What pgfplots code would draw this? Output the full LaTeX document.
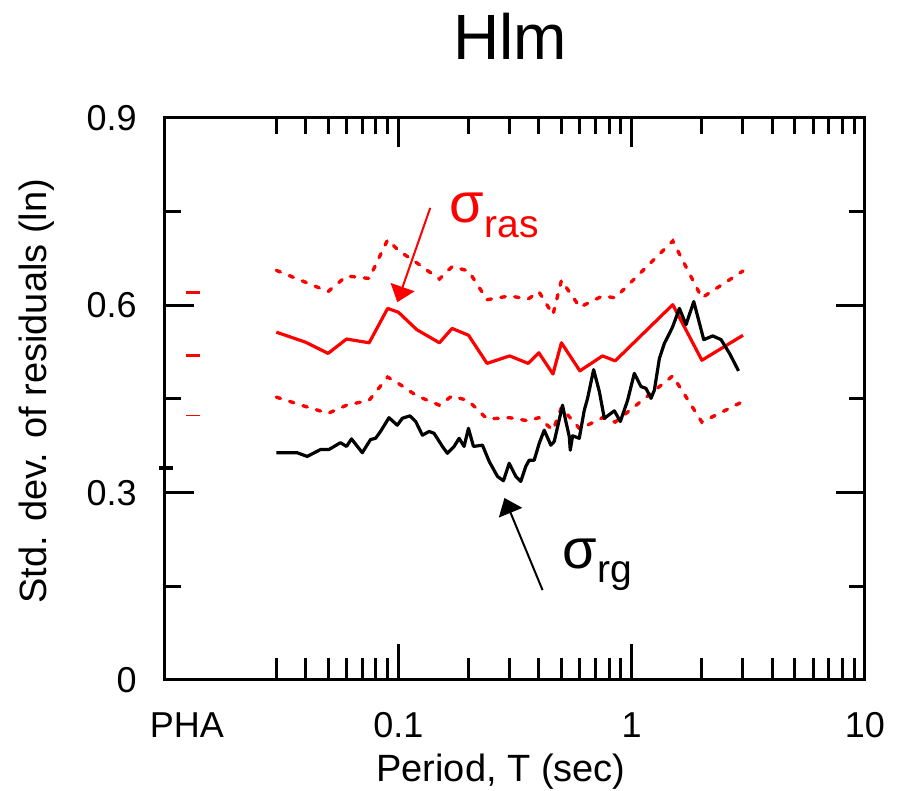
\documentclass[border=0pt]{standalone}
\usepackage{fontspec}
\setmainfont{Liberation Sans}
\usepackage{pgfplots}
\pgfplotsset{compat=1.18}
\usetikzlibrary{arrows.meta}

\pgfplotstableread{
T s
0.03 0.557
0.04 0.541
0.05 0.523
0.06 0.546
0.075 0.540
0.09 0.595
0.1 0.589
0.12 0.561
0.15 0.540
0.17 0.563
0.2 0.552
0.24 0.507
0.3 0.519
0.36 0.507
0.4 0.524
0.46 0.490
0.5 0.540
0.6 0.495
0.75 0.519
0.85 0.511
1.5 0.601
2.0 0.512
3.0 0.552
}\rasmid

\pgfplotstableread{
T s
0.03 0.656
0.04 0.637
0.05 0.622
0.06 0.647
0.075 0.643
0.09 0.705
0.1 0.688
0.12 0.668
0.15 0.642
0.17 0.662
0.2 0.655
0.24 0.609
0.3 0.615
0.36 0.610
0.4 0.622
0.46 0.585
0.5 0.640
0.6 0.597
0.75 0.615
0.85 0.612
1.5 0.703
2.0 0.612
3.0 0.655
}\rasup

\pgfplotstableread{
T s
0.03 0.453
0.04 0.438
0.05 0.427
0.06 0.440
0.075 0.448
0.09 0.485
0.1 0.475
0.12 0.455
0.15 0.440
0.17 0.455
0.2 0.447
0.24 0.418
0.3 0.420
0.36 0.415
0.4 0.420
0.46 0.400
0.5 0.436
0.6 0.402
0.75 0.420
0.85 0.413
1.5 0.487
2.0 0.413
3.0 0.446
}\raslo

\pgfplotstableread{
T s
0.030 0.364
0.0368 0.364
0.0407 0.358
0.0464 0.369
0.0504 0.369
0.0565 0.380
0.0600 0.374
0.0630 0.386
0.0701 0.364
0.0760 0.385
0.0799 0.387
0.0839 0.398
0.0912 0.420
0.0990 0.408
0.1040 0.419
0.1120 0.423
0.1187 0.414
0.1268 0.392
0.1355 0.398
0.1423 0.395
0.1545 0.374
0.1623 0.363
0.1734 0.374
0.1822 0.387
0.1914 0.374
0.1998 0.403
0.2099 0.374
0.2294 0.376
0.2451 0.350
0.2660 0.326
0.2822 0.319
0.2986 0.347
0.3188 0.326
0.3349 0.318
0.3518 0.342
0.3638 0.352
0.3822 0.352
0.4017 0.379
0.4220 0.400
0.4505 0.376
0.4659 0.382
0.5056 0.440
0.5224 0.414
0.5403 0.390
0.5457 0.368
0.5583 0.391
0.5963 0.387
0.6266 0.432
0.6474 0.451
0.6871 0.497
0.7270 0.462
0.7637 0.419
0.8430 0.431
0.8944 0.414
0.9612 0.448
1.027 0.491
1.096 0.470
1.152 0.467
1.210 0.451
1.251 0.464
1.315 0.515
1.381 0.539
1.452 0.555
1.500 0.566
1.602 0.595
1.710 0.569
1.846 0.606
2.037 0.545
2.227 0.551
2.417 0.545
2.627 0.523
2.871 0.495
}\rg

\begin{document}
\begin{tikzpicture}
\begin{axis}[name=ax,
  scale only axis, width=350pt, height=281pt,
  xmode=log, xmin=0.01, xmax=10, ymin=0, ymax=0.9,
  clip=false,
  axis line style={line width=1.5pt},
  every tick/.style={line width=1.5pt, black},
  xtick={0.1,1,10},
  minor xtick={0.03,0.04,0.05,0.06,0.07,0.08,0.09,0.2,0.3,0.4,0.5,0.6,0.7,0.8,0.9,2,3,4,5,6,7,8,9},
  tick label style={font=\fontsize{18}{18}\selectfont},
  major tick length=14.5pt, minor tick length=8pt,
  xtick pos=right, xticklabels={},
  ytick pos=both,
  ytick={0,0.3,0.6,0.9}, yticklabels={0,0.3,0.6,0.9},
  minor ytick={0.15,0.45,0.75},
  yticklabel style={inner sep=0pt, xshift=-14pt},
  ylabel={Std. dev. of residuals (ln)},
  ylabel style={font=\fontsize{19}{19}\selectfont, at={(axis description cs:-0.184,0.514)}, anchor=center},
]
\addplot[red, line width=1.6pt, line join=round] table[x=T, y=s] {\rasmid};
\addplot[red, line width=1.7pt, line cap=round, dash pattern=on 2.2pt off 4.8pt] table[x=T, y=s] {\rasup};
\addplot[red, line width=1.7pt, line cap=round, dash pattern=on 2.2pt off 4.8pt] table[x=T, y=s] {\raslo};
\addplot[black, line width=1.6pt, line join=round] table[x=T, y=s] {\rg};
% PHA values
\addplot[red, only marks, mark=-, mark size=3.5pt, mark options={line width=1.6pt}] coordinates {(0.0132,0.620) (0.0132,0.520)};
\addplot[red, only marks, mark=-, mark size=3.5pt, mark options={line width=0.6pt}] coordinates {(0.0132,0.424)};
\addplot[black, only marks, mark=-, mark size=3.5pt, mark options={line width=2pt}] coordinates {(0.0101,0.340)};
% annotations
\draw[red, line width=1pt, -{Triangle[length=8pt, width=12.5pt]}] (axis cs:0.137,0.756) -- (axis cs:0.099,0.605);
\draw[black, line width=1pt, -{Triangle[length=8pt, width=12.5pt]}] (axis cs:0.415,0.144) -- (axis cs:0.285,0.2915);
\node[red, anchor=base west, inner sep=0pt] at (axis cs:0.1655,0.732) {\fontsize{28}{28}\selectfont σ\raisebox{-7.5pt}{\fontsize{19.5}{19.5}\selectfont ras}};
\node[black, anchor=base west, inner sep=0pt] at (axis cs:0.5057,0.179) {\fontsize{28}{28}\selectfont σ\raisebox{-7pt}{\fontsize{19.5}{19.5}\selectfont rg}};
\end{axis}
\begin{axis}[
  scale only axis, width=350pt, height=281pt,
  xmode=log, xmin=0.01, xmax=10, ymin=0, ymax=0.9,
  clip=false,
  axis line style={line width=1.5pt},
  every tick/.style={line width=1.5pt, black},
  xtick={0.1,1,10},
  minor xtick={0.03,0.04,0.05,0.06,0.07,0.08,0.09,0.2,0.3,0.4,0.5,0.6,0.7,0.8,0.9,2,3,4,5,6,7,8,9},
  tick label style={font=\fontsize{18}{18}\selectfont},
  major tick length=18pt, minor tick length=11pt,
  xtick pos=left, xticklabels={0.1,1,10},
  xticklabel style={inner sep=0pt, anchor=north, yshift=-16pt},
  ytick=\empty,
  xlabel={Period, T (sec)},
  xlabel style={font=\fontsize{19}{19}\selectfont, at={(axis description cs:0.48,-0.18)}, anchor=base},
]
\node[anchor=north, inner sep=0pt, font=\fontsize{18}{18}\selectfont] at ([yshift=-16pt]axis cs:0.0124,0) {PHA};
\end{axis}
\node[anchor=base, font=\fontsize{32}{32}\selectfont] at ([shift={(-2.5pt,29pt)}]ax.north) {Hlm};
\pgfresetboundingbox
\path[use as bounding box] ([shift={(-82.5pt,-55.5pt)}]ax.south west) rectangle ([shift={(18.5pt,59pt)}]ax.north east);
\end{tikzpicture}
\end{document}
